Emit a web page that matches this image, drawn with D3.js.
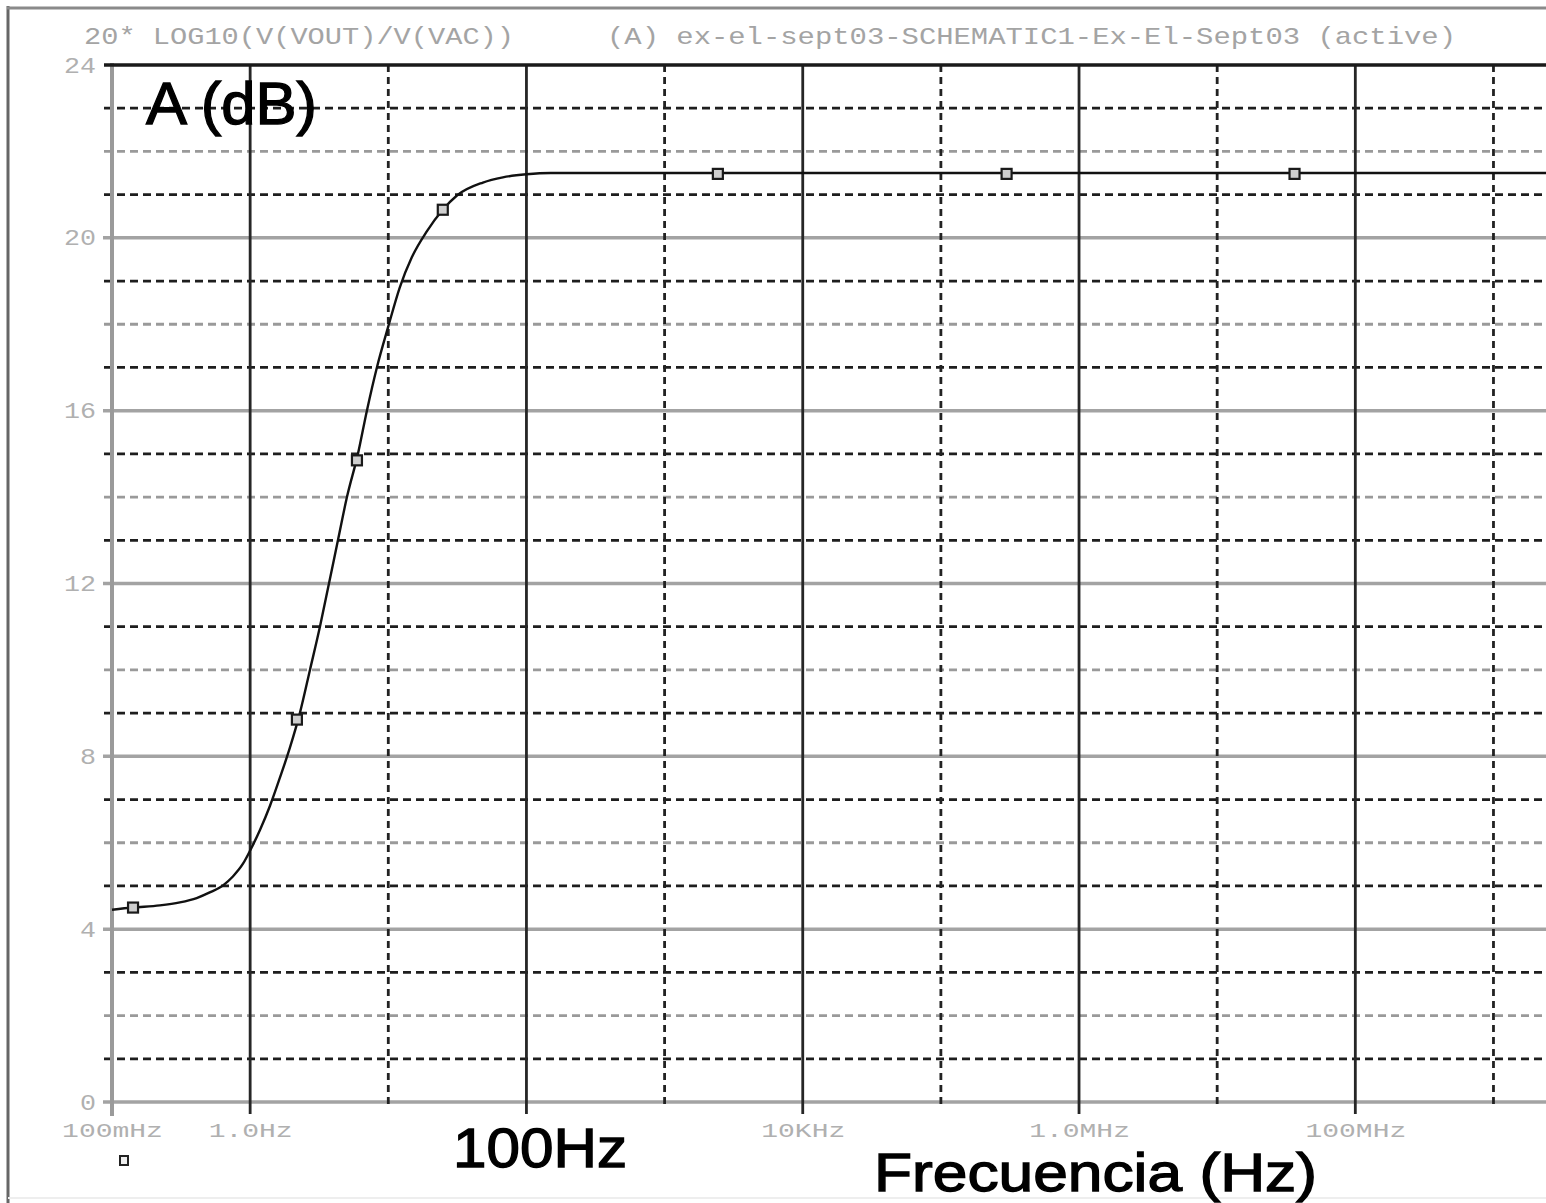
<!DOCTYPE html>
<html><head><meta charset="utf-8">
<script src="https://cdn.jsdelivr.net/npm/d3@7"></script>
<style>body{margin:0;background:#fff} svg{display:block}</style>
</head><body><svg id="c" width="1546" height="1203"></svg>
<script>
// ---- data ----
const freqHz = [0.1, 0.142, 0.222, 0.31, 0.41, 0.51, 0.64, 0.75, 0.89, 1.0, 1.18, 1.39, 1.64, 1.94, 2.29, 2.71, 3.2, 3.72, 4.32, 5.02, 6.03, 7.0, 8.27, 10, 12.1, 14.8, 19.0, 24.8, 31.4, 48.4, 67.5, 100, 150, 1e3, 1e5, 1e7, 1e9, 2.4e9];
const gainDb = [4.45, 4.5, 4.55, 4.62, 4.72, 4.85, 5.02, 5.22, 5.52, 5.82, 6.3, 6.85, 7.5, 8.2, 9.0, 10.0, 11.0, 12.0, 13.0, 14.0, 15.0, 16.0, 17.0, 17.95, 18.85, 19.55, 20.15, 20.65, 20.98, 21.28, 21.4, 21.47, 21.5, 21.5, 21.5, 21.5, 21.5, 21.5];
const markerFreq = [0.142, 2.18, 5.93, 24.8, 2430, 2.99e5, 3.63e7];
const markerDb = [4.5, 8.85, 14.85, 20.65, 21.48, 21.48, 21.48];
const yMajorTicks = [0, 4, 8, 12, 16, 20, 24];
const yMinorTicks = [1, 2, 3, 5, 6, 7, 9, 10, 11, 13, 14, 15, 17, 18, 19, 21, 22, 23];
const xDecadeSolid = [1, 100, 1e4, 1e6, 1e8];
const xDecadeDashed = [10, 1e3, 1e5, 1e7, 1e9];
const xTickValues = [0.1, 1, 1e4, 1e6, 1e8];
const xTickLabels = ["100mHz", "1.0Hz", "10KHz", "1.0MHz", "100MHz"];
const headerLeft = "20* LOG10(V(VOUT)/V(VAC))";
const headerRight = "(A) ex-el-sept03-SCHEMATIC1-Ex-El-Sept03 (active)";

const svg = d3.select("#c");
const x = d3.scaleLog().domain([0.1, 2.4e9]).range([112, 1546]);
const y = d3.scaleLinear().domain([0, 24]).range([1102, 65]);
const mono = "'Liberation Mono','DejaVu Sans Mono',monospace";
const sans = "'Liberation Sans',Arial,sans-serif";

// frame
svg.append("line").attr("x1", 8).attr("x2", 8).attr("y1", 6).attr("y2", 1203).attr("stroke", "#666").attr("stroke-width", 3);
svg.append("line").attr("x1", 7).attr("x2", 1546).attr("y1", 8).attr("y2", 8).attr("stroke", "#8a8a8a").attr("stroke-width", 3);
svg.append("line").attr("x1", 8).attr("x2", 1546).attr("y1", 1198).attr("y2", 1198).attr("stroke", "#eee").attr("stroke-width", 2);

// headers
svg.append("text").attr("x", 84).attr("y", 44).attr("font-family", mono).attr("font-size", 24)
  .attr("fill", "#a4a4a4").attr("textLength", 430).attr("lengthAdjust", "spacingAndGlyphs").text(headerLeft);
svg.append("text").attr("x", 607).attr("y", 44).attr("font-family", mono).attr("font-size", 24)
  .attr("fill", "#a4a4a4").attr("textLength", 849).attr("lengthAdjust", "spacingAndGlyphs").text(headerRight);

const g = svg.append("g");
// horizontal minor dashed grid
g.selectAll(".hmin").data(yMinorTicks).join("line")
  .attr("x1", 104).attr("x2", 1546).attr("y1", d => y(d)).attr("y2", d => y(d))
  .attr("stroke", d => d % 2 === 0 ? "#9a9a9a" : "#1e1e1e").attr("stroke-width", 2.8)
  .attr("stroke-dasharray", "8,5");
// horizontal major gray grid (excluding top)
g.selectAll(".hmaj").data(yMajorTicks.filter(d => d < 24)).join("line")
  .attr("x1", 103).attr("x2", 1546).attr("y1", d => y(d)).attr("y2", d => y(d))
  .attr("stroke", "#a3a3a3").attr("stroke-width", 3.5);
// vertical dashed decades
g.selectAll(".vd").data(xDecadeDashed).join("line")
  .attr("x1", d => x(d)).attr("x2", d => x(d)).attr("y1", 65).attr("y2", 1108)
  .attr("stroke", "#222").attr("stroke-width", 2.8).attr("stroke-dasharray", "7,5");
// vertical solid decades
g.selectAll(".vs").data(xDecadeSolid).join("line")
  .attr("x1", d => x(d)).attr("x2", d => x(d)).attr("y1", 65).attr("y2", 1114)
  .attr("stroke", "#262626").attr("stroke-width", 2.8);
// left axis line
g.append("line").attr("x1", x(0.1)).attr("x2", x(0.1)).attr("y1", 63).attr("y2", 1116)
  .attr("stroke", "#9a9a9a").attr("stroke-width", 4);
// top line
g.append("line").attr("x1", 104).attr("x2", 1546).attr("y1", y(24)).attr("y2", y(24))
  .attr("stroke", "#1a1a1a").attr("stroke-width", 3.5);

// y axis labels via d3 axis
const yAxis = svg.append("g").attr("transform", "translate(104,0)")
  .call(d3.axisLeft(y).tickValues(yMajorTicks).tickSize(0).tickPadding(8).tickFormat(d3.format("d")));
yAxis.select(".domain").remove();
yAxis.selectAll("text").attr("font-family", mono).attr("font-size", 22).attr("fill", "#b0b0b0")
  .attr("textLength", d => String(d).length * 16).attr("lengthAdjust", "spacingAndGlyphs");

// x axis labels via d3 axis
const xAxis = svg.append("g").attr("transform", "translate(0,1112)")
  .call(d3.axisBottom(x).tickValues(xTickValues).tickSize(0).tickPadding(10)
    .tickFormat((d, i) => xTickLabels[i]));
xAxis.select(".domain").remove();
xAxis.selectAll("text").attr("font-family", mono).attr("font-size", 21).attr("fill", "#b0b0b0")
  .attr("textLength", (d, i) => xTickLabels[i].length * 16.8).attr("lengthAdjust", "spacingAndGlyphs");

// curve
const line = d3.line().x((d, i) => x(freqHz[i])).y((d, i) => y(gainDb[i])).curve(d3.curveMonotoneX);
svg.append("path").attr("d", line(freqHz)).attr("fill", "none").attr("stroke", "#111").attr("stroke-width", 2.4);

// markers
svg.selectAll(".mk").data(markerFreq).join("rect")
  .attr("x", d => x(d) - 5).attr("y", (d, i) => y(markerDb[i]) - 5).attr("width", 10).attr("height", 10)
  .attr("fill", "#cfcfcf").attr("stroke", "#1a1a1a").attr("stroke-width", 2.2);

// legend marker
svg.append("rect").attr("x", 120).attr("y", 1156).attr("width", 8).attr("height", 9)
  .attr("fill", "#eee").attr("stroke", "#222").attr("stroke-width", 2);

// big labels
const big = (txt, xx, yy, fs, len) => svg.append("text").attr("x", xx).attr("y", yy)
  .attr("font-family", sans).attr("font-size", fs).attr("fill", "#000")
  .attr("stroke", "#000").attr("stroke-width", 1.3)
  .attr("textLength", len).attr("lengthAdjust", "spacingAndGlyphs").text(txt);
big("A (dB)", 146, 124, 60, 171);
big("100Hz", 453, 1167, 56, 174);
big("Frecuencia (Hz)", 874, 1191, 54, 443);
</script></body></html>
